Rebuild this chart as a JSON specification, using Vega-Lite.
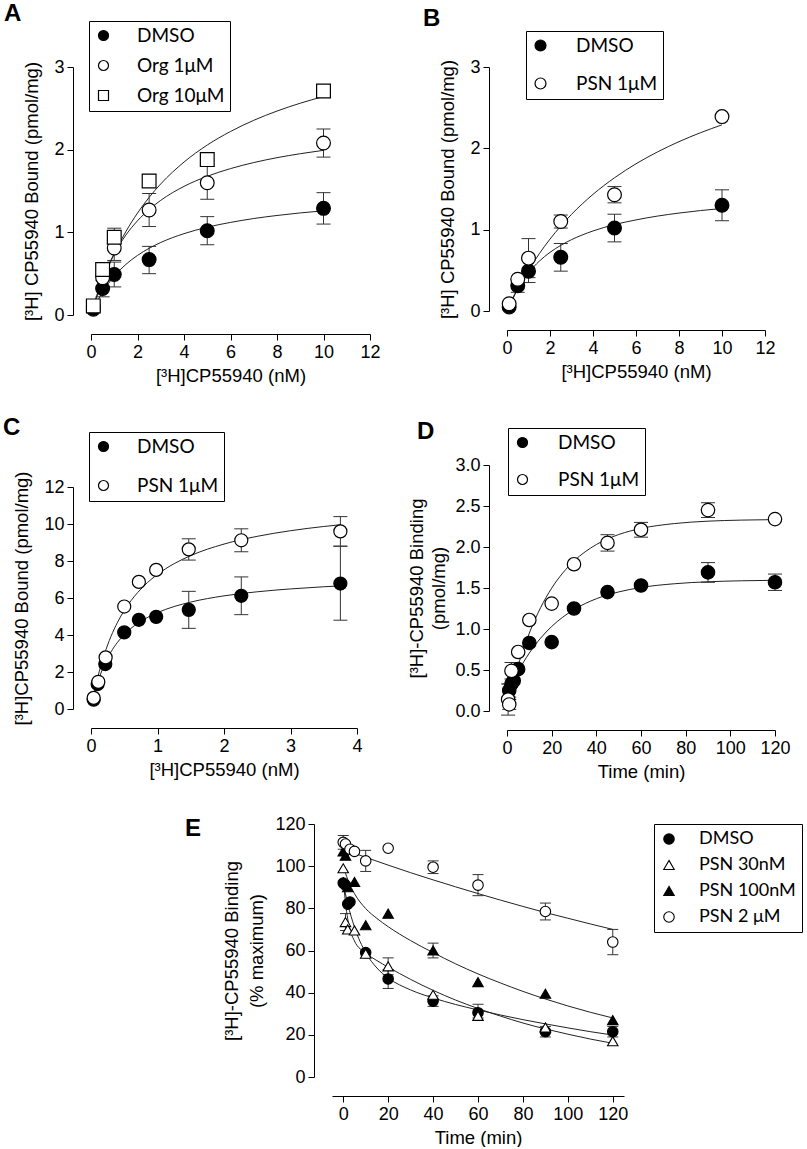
{
"$schema": "https://vega.github.io/schema/vega-lite/v6.json",
"padding": {"left": 3, "top": 1, "right": 0, "bottom": 0},
"config": {
 "view": {"stroke": null},
 "axis": {"domainColor": "black", "tickColor": "black", "labelColor": "black", "titleColor": "black", "labelFont": "Liberation Sans", "titleFont": "Liberation Sans", "labelFontSize": 18, "titleFontSize": 18.5, "titleFontWeight": "normal", "tickSize": 6, "grid": false, "labelPadding": 3, "labelFlush": false, "labelOverlap": false, "titleLineHeight": 22},
 "axisX": {"offset": 19, "titlePadding": 5},
 "axisY": {"offset": 18, "titlePadding": 12},
 "title": {"font": "Liberation Sans", "fontSize": 24, "fontWeight": "bold", "anchor": "start", "frame": "group", "offset": 0, "baseline": "alphabetic", "color": "black"},
 "legend": {"labelFont": "Lato", "labelColor": "black", "labelFontSize": 19, "strokeColor": "black", "fillColor": "white", "symbolStrokeColor": "black", "symbolStrokeWidth": 1.2, "symbolOpacity": 1, "padding": 5, "labelOffset": 24, "symbolSize": 100, "cornerRadius": 0}
},
"datasets": {
 "pts": [
  {"p":"A","s":"DMSO","x":0.1,"y":0.07},
  {"p":"A","s":"DMSO","x":0.5,"y":0.32,"lo":0.22,"hi":0.42},
  {"p":"A","s":"DMSO","x":1,"y":0.49,"lo":0.34,"hi":0.64},
  {"p":"A","s":"DMSO","x":2.5,"y":0.67,"lo":0.5,"hi":0.83},
  {"p":"A","s":"DMSO","x":5,"y":1.02,"lo":0.85,"hi":1.19},
  {"p":"A","s":"DMSO","x":10,"y":1.29,"lo":1.1,"hi":1.48},
  {"p":"A","s":"Org 1μM","x":0.1,"y":0.1},
  {"p":"A","s":"Org 1μM","x":0.5,"y":0.45},
  {"p":"A","s":"Org 1μM","x":1,"y":0.81,"lo":0.66,"hi":0.96},
  {"p":"A","s":"Org 1μM","x":2.5,"y":1.27,"lo":1.07,"hi":1.47},
  {"p":"A","s":"Org 1μM","x":5,"y":1.6,"lo":1.4,"hi":1.8},
  {"p":"A","s":"Org 1μM","x":10,"y":2.08,"lo":1.91,"hi":2.25},
  {"p":"A","s":"Org 10μM","x":0.1,"y":0.11},
  {"p":"A","s":"Org 10μM","x":0.5,"y":0.55,"lo":0.5,"hi":0.6},
  {"p":"A","s":"Org 10μM","x":1,"y":0.94,"lo":0.83,"hi":1.05},
  {"p":"A","s":"Org 10μM","x":2.5,"y":1.62,"lo":1.55,"hi":1.7},
  {"p":"A","s":"Org 10μM","x":5,"y":1.88,"lo":1.8,"hi":1.96},
  {"p":"A","s":"Org 10μM","x":10,"y":2.71},
  {"p":"B","s":"DMSO","x":0.1,"y":0.05},
  {"p":"B","s":"DMSO","x":0.5,"y":0.31,"lo":0.23,"hi":0.39},
  {"p":"B","s":"DMSO","x":1,"y":0.49,"lo":0.35,"hi":0.63},
  {"p":"B","s":"DMSO","x":2.5,"y":0.66,"lo":0.49,"hi":0.83},
  {"p":"B","s":"DMSO","x":5,"y":1.02,"lo":0.85,"hi":1.19},
  {"p":"B","s":"DMSO","x":10,"y":1.3,"lo":1.11,"hi":1.49},
  {"p":"B","s":"PSN 1μM","x":0.1,"y":0.09},
  {"p":"B","s":"PSN 1μM","x":0.5,"y":0.39},
  {"p":"B","s":"PSN 1μM","x":1,"y":0.65,"lo":0.41,"hi":0.89},
  {"p":"B","s":"PSN 1μM","x":2.5,"y":1.1,"lo":1.02,"hi":1.18},
  {"p":"B","s":"PSN 1μM","x":5,"y":1.43,"lo":1.33,"hi":1.53},
  {"p":"B","s":"PSN 1μM","x":10,"y":2.39},
  {"p":"C","s":"DMSO","x":0.04,"y":0.5},
  {"p":"C","s":"DMSO","x":0.1,"y":1.35},
  {"p":"C","s":"DMSO","x":0.215,"y":2.43},
  {"p":"C","s":"DMSO","x":0.5,"y":4.14},
  {"p":"C","s":"DMSO","x":0.72,"y":4.82},
  {"p":"C","s":"DMSO","x":0.98,"y":4.98},
  {"p":"C","s":"DMSO","x":1.47,"y":5.36,"lo":4.36,"hi":6.36},
  {"p":"C","s":"DMSO","x":2.26,"y":6.12,"lo":5.1,"hi":7.14},
  {"p":"C","s":"DMSO","x":3.75,"y":6.78,"lo":4.8,"hi":8.8},
  {"p":"C","s":"PSN 1μM","x":0.04,"y":0.6},
  {"p":"C","s":"PSN 1μM","x":0.11,"y":1.47},
  {"p":"C","s":"PSN 1μM","x":0.22,"y":2.79},
  {"p":"C","s":"PSN 1μM","x":0.5,"y":5.54},
  {"p":"C","s":"PSN 1μM","x":0.72,"y":6.87},
  {"p":"C","s":"PSN 1μM","x":0.98,"y":7.52},
  {"p":"C","s":"PSN 1μM","x":1.47,"y":8.63,"lo":8.05,"hi":9.2},
  {"p":"C","s":"PSN 1μM","x":2.26,"y":9.12,"lo":8.5,"hi":9.74},
  {"p":"C","s":"PSN 1μM","x":3.75,"y":9.6,"lo":8.8,"hi":10.4},
  {"p":"D","s":"DMSO","x":1,"y":0.25,"lo":0.17,"hi":0.33},
  {"p":"D","s":"DMSO","x":2,"y":0.33},
  {"p":"D","s":"DMSO","x":3,"y":0.37},
  {"p":"D","s":"DMSO","x":5,"y":0.51},
  {"p":"D","s":"DMSO","x":10,"y":0.83},
  {"p":"D","s":"DMSO","x":20,"y":0.84},
  {"p":"D","s":"DMSO","x":30,"y":1.25},
  {"p":"D","s":"DMSO","x":45,"y":1.45},
  {"p":"D","s":"DMSO","x":60,"y":1.53},
  {"p":"D","s":"DMSO","x":90,"y":1.69,"lo":1.57,"hi":1.81},
  {"p":"D","s":"DMSO","x":120,"y":1.57,"lo":1.47,"hi":1.67},
  {"p":"D","s":"PSN 1μM","x":0.5,"y":0.14,"lo":-0.05,"hi":0.33},
  {"p":"D","s":"PSN 1μM","x":1,"y":0.08,"lo":0.02,"hi":0.14},
  {"p":"D","s":"PSN 1μM","x":2,"y":0.49,"lo":0.39,"hi":0.59},
  {"p":"D","s":"PSN 1μM","x":5,"y":0.72},
  {"p":"D","s":"PSN 1μM","x":10,"y":1.11},
  {"p":"D","s":"PSN 1μM","x":20,"y":1.31},
  {"p":"D","s":"PSN 1μM","x":30,"y":1.79},
  {"p":"D","s":"PSN 1μM","x":45,"y":2.05,"lo":1.95,"hi":2.15},
  {"p":"D","s":"PSN 1μM","x":60,"y":2.21,"lo":2.12,"hi":2.3},
  {"p":"D","s":"PSN 1μM","x":90,"y":2.45,"lo":2.36,"hi":2.54},
  {"p":"D","s":"PSN 1μM","x":120,"y":2.34},
  {"p":"E","s":"DMSO","x":0,"y":92},
  {"p":"E","s":"DMSO","x":1,"y":91},
  {"p":"E","s":"DMSO","x":2,"y":82},
  {"p":"E","s":"DMSO","x":3,"y":83},
  {"p":"E","s":"DMSO","x":10,"y":59},
  {"p":"E","s":"DMSO","x":20,"y":46.5,"lo":42,"hi":51},
  {"p":"E","s":"DMSO","x":40,"y":36,"lo":33.5,"hi":38.5},
  {"p":"E","s":"DMSO","x":60,"y":30.5,"lo":28,"hi":34.5},
  {"p":"E","s":"DMSO","x":90,"y":21.5,"lo":19,"hi":24},
  {"p":"E","s":"DMSO","x":120,"y":21.5,"lo":19,"hi":24},
  {"p":"E","s":"PSN 30nM","x":0,"y":99},
  {"p":"E","s":"PSN 30nM","x":1,"y":73.5,"lo":69.5,"hi":77.5},
  {"p":"E","s":"PSN 30nM","x":2,"y":70},
  {"p":"E","s":"PSN 30nM","x":5,"y":69.5},
  {"p":"E","s":"PSN 30nM","x":10,"y":58.5},
  {"p":"E","s":"PSN 30nM","x":20,"y":52.5,"lo":48.5,"hi":56.5},
  {"p":"E","s":"PSN 30nM","x":40,"y":39},
  {"p":"E","s":"PSN 30nM","x":60,"y":29},
  {"p":"E","s":"PSN 30nM","x":90,"y":23.5},
  {"p":"E","s":"PSN 30nM","x":120,"y":17},
  {"p":"E","s":"PSN 100nM","x":0,"y":107},
  {"p":"E","s":"PSN 100nM","x":1,"y":105},
  {"p":"E","s":"PSN 100nM","x":2,"y":90},
  {"p":"E","s":"PSN 100nM","x":5,"y":92.5},
  {"p":"E","s":"PSN 100nM","x":10,"y":72},
  {"p":"E","s":"PSN 100nM","x":20,"y":77.5},
  {"p":"E","s":"PSN 100nM","x":40,"y":60,"lo":56.5,"hi":63.5},
  {"p":"E","s":"PSN 100nM","x":60,"y":45},
  {"p":"E","s":"PSN 100nM","x":90,"y":39.5},
  {"p":"E","s":"PSN 100nM","x":120,"y":27},
  {"p":"E","s":"PSN 2 μM","x":0,"y":111.3,"lo":108,"hi":114.5},
  {"p":"E","s":"PSN 2 μM","x":1,"y":110.5},
  {"p":"E","s":"PSN 2 μM","x":3,"y":108},
  {"p":"E","s":"PSN 2 μM","x":5,"y":107},
  {"p":"E","s":"PSN 2 μM","x":10,"y":102.5,"lo":97.5,"hi":107.5},
  {"p":"E","s":"PSN 2 μM","x":20,"y":108.5},
  {"p":"E","s":"PSN 2 μM","x":40,"y":99.5,"lo":96.5,"hi":102.5},
  {"p":"E","s":"PSN 2 μM","x":60,"y":91,"lo":86,"hi":96},
  {"p":"E","s":"PSN 2 μM","x":90,"y":78.5,"lo":74.5,"hi":82.5},
  {"p":"E","s":"PSN 2 μM","x":120,"y":64,"lo":58,"hi":70}
 ],
 "fit": [
  {"p":"A","s":"DMSO","x":0.1,"y":0.065},{"p":"A","s":"DMSO","x":0.25,"y":0.152},{"p":"A","s":"DMSO","x":0.5,"y":0.277},{"p":"A","s":"DMSO","x":0.75,"y":0.381},{"p":"A","s":"DMSO","x":1,"y":0.47},{"p":"A","s":"DMSO","x":1.5,"y":0.612},{"p":"A","s":"DMSO","x":2,"y":0.721},{"p":"A","s":"DMSO","x":2.5,"y":0.807},{"p":"A","s":"DMSO","x":3,"y":0.877},{"p":"A","s":"DMSO","x":4,"y":0.984},{"p":"A","s":"DMSO","x":5,"y":1.062},{"p":"A","s":"DMSO","x":6,"y":1.12},{"p":"A","s":"DMSO","x":7,"y":1.167},{"p":"A","s":"DMSO","x":8,"y":1.204},{"p":"A","s":"DMSO","x":9,"y":1.235},{"p":"A","s":"DMSO","x":10,"y":1.26},
  {"p":"A","s":"Org 1μM","x":0.1,"y":0.102},{"p":"A","s":"Org 1μM","x":0.25,"y":0.24},{"p":"A","s":"Org 1μM","x":0.5,"y":0.438},{"p":"A","s":"Org 1μM","x":0.75,"y":0.602},{"p":"A","s":"Org 1μM","x":1,"y":0.742},{"p":"A","s":"Org 1μM","x":1.5,"y":0.967},{"p":"A","s":"Org 1μM","x":2,"y":1.14},{"p":"A","s":"Org 1μM","x":2.5,"y":1.276},{"p":"A","s":"Org 1μM","x":3,"y":1.387},{"p":"A","s":"Org 1μM","x":4,"y":1.556},{"p":"A","s":"Org 1μM","x":5,"y":1.678},{"p":"A","s":"Org 1μM","x":6,"y":1.771},{"p":"A","s":"Org 1μM","x":7,"y":1.844},{"p":"A","s":"Org 1μM","x":8,"y":1.903},{"p":"A","s":"Org 1μM","x":9,"y":1.951},{"p":"A","s":"Org 1μM","x":10,"y":1.992},
  {"p":"A","s":"Org 10μM","x":0.1,"y":0.09},{"p":"A","s":"Org 10μM","x":0.25,"y":0.218},{"p":"A","s":"Org 10μM","x":0.5,"y":0.411},{"p":"A","s":"Org 10μM","x":0.75,"y":0.584},{"p":"A","s":"Org 10μM","x":1,"y":0.74},{"p":"A","s":"Org 10μM","x":1.5,"y":1.009},{"p":"A","s":"Org 10μM","x":2,"y":1.233},{"p":"A","s":"Org 10μM","x":2.5,"y":1.423},{"p":"A","s":"Org 10μM","x":3,"y":1.586},{"p":"A","s":"Org 10μM","x":4,"y":1.85},{"p":"A","s":"Org 10μM","x":5,"y":2.056},{"p":"A","s":"Org 10μM","x":6,"y":2.22},{"p":"A","s":"Org 10μM","x":7,"y":2.355},{"p":"A","s":"Org 10μM","x":8,"y":2.467},{"p":"A","s":"Org 10μM","x":9,"y":2.562},{"p":"A","s":"Org 10μM","x":10,"y":2.643},
  {"p":"B","s":"DMSO","x":0.1,"y":0.065},{"p":"B","s":"DMSO","x":0.25,"y":0.152},{"p":"B","s":"DMSO","x":0.5,"y":0.277},{"p":"B","s":"DMSO","x":0.75,"y":0.381},{"p":"B","s":"DMSO","x":1,"y":0.47},{"p":"B","s":"DMSO","x":1.5,"y":0.612},{"p":"B","s":"DMSO","x":2,"y":0.721},{"p":"B","s":"DMSO","x":2.5,"y":0.807},{"p":"B","s":"DMSO","x":3,"y":0.877},{"p":"B","s":"DMSO","x":4,"y":0.984},{"p":"B","s":"DMSO","x":5,"y":1.062},{"p":"B","s":"DMSO","x":6,"y":1.12},{"p":"B","s":"DMSO","x":7,"y":1.167},{"p":"B","s":"DMSO","x":8,"y":1.204},{"p":"B","s":"DMSO","x":9,"y":1.235},{"p":"B","s":"DMSO","x":10,"y":1.26},
  {"p":"B","s":"PSN 1μM","x":0.1,"y":0.057},{"p":"B","s":"PSN 1μM","x":0.25,"y":0.139},{"p":"B","s":"PSN 1μM","x":0.5,"y":0.268},{"p":"B","s":"PSN 1μM","x":0.75,"y":0.388},{"p":"B","s":"PSN 1μM","x":1,"y":0.5},{"p":"B","s":"PSN 1μM","x":1.5,"y":0.704},{"p":"B","s":"PSN 1μM","x":2,"y":0.884},{"p":"B","s":"PSN 1μM","x":2.5,"y":1.044},{"p":"B","s":"PSN 1μM","x":3,"y":1.188},{"p":"B","s":"PSN 1μM","x":4,"y":1.434},{"p":"B","s":"PSN 1μM","x":5,"y":1.638},{"p":"B","s":"PSN 1μM","x":6,"y":1.81},{"p":"B","s":"PSN 1μM","x":7,"y":1.956},{"p":"B","s":"PSN 1μM","x":8,"y":2.082},{"p":"B","s":"PSN 1μM","x":9,"y":2.192},{"p":"B","s":"PSN 1μM","x":10,"y":2.289},
  {"p":"C","s":"DMSO","x":0.02,"y":0.336},{"p":"C","s":"DMSO","x":0.05,"y":0.787},{"p":"C","s":"DMSO","x":0.1,"y":1.423},{"p":"C","s":"DMSO","x":0.15,"y":1.947},{"p":"C","s":"DMSO","x":0.2,"y":2.387},{"p":"C","s":"DMSO","x":0.3,"y":3.083},{"p":"C","s":"DMSO","x":0.4,"y":3.61},{"p":"C","s":"DMSO","x":0.5,"y":4.022},{"p":"C","s":"DMSO","x":0.6,"y":4.353},{"p":"C","s":"DMSO","x":0.8,"y":4.852},{"p":"C","s":"DMSO","x":1,"y":5.211},{"p":"C","s":"DMSO","x":1.25,"y":5.539},{"p":"C","s":"DMSO","x":1.5,"y":5.781},{"p":"C","s":"DMSO","x":2,"y":6.116},{"p":"C","s":"DMSO","x":2.5,"y":6.336},{"p":"C","s":"DMSO","x":3,"y":6.491},{"p":"C","s":"DMSO","x":3.5,"y":6.607},{"p":"C","s":"DMSO","x":3.75,"y":6.655},
  {"p":"C","s":"PSN 1μM","x":0.02,"y":0.383},{"p":"C","s":"PSN 1μM","x":0.05,"y":0.913},{"p":"C","s":"PSN 1μM","x":0.1,"y":1.691},{"p":"C","s":"PSN 1μM","x":0.15,"y":2.363},{"p":"C","s":"PSN 1μM","x":0.2,"y":2.949},{"p":"C","s":"PSN 1μM","x":0.3,"y":3.92},{"p":"C","s":"PSN 1μM","x":0.4,"y":4.694},{"p":"C","s":"PSN 1μM","x":0.5,"y":5.324},{"p":"C","s":"PSN 1μM","x":0.6,"y":5.847},{"p":"C","s":"PSN 1μM","x":0.8,"y":6.667},{"p":"C","s":"PSN 1μM","x":1,"y":7.278},{"p":"C","s":"PSN 1μM","x":1.25,"y":7.855},{"p":"C","s":"PSN 1μM","x":1.5,"y":8.293},{"p":"C","s":"PSN 1μM","x":2,"y":8.915},{"p":"C","s":"PSN 1μM","x":2.5,"y":9.334},{"p":"C","s":"PSN 1μM","x":3,"y":9.637},{"p":"C","s":"PSN 1μM","x":3.5,"y":9.865},{"p":"C","s":"PSN 1μM","x":3.75,"y":9.96},
  {"p":"D","s":"DMSO","x":0,"y":0.2},{"p":"D","s":"DMSO","x":2,"y":0.32},{"p":"D","s":"DMSO","x":5,"y":0.482},{"p":"D","s":"DMSO","x":10,"y":0.707},{"p":"D","s":"DMSO","x":15,"y":0.887},{"p":"D","s":"DMSO","x":20,"y":1.031},{"p":"D","s":"DMSO","x":25,"y":1.145},{"p":"D","s":"DMSO","x":30,"y":1.237},{"p":"D","s":"DMSO","x":40,"y":1.369},{"p":"D","s":"DMSO","x":50,"y":1.452},{"p":"D","s":"DMSO","x":60,"y":1.506},{"p":"D","s":"DMSO","x":75,"y":1.552},{"p":"D","s":"DMSO","x":90,"y":1.576},{"p":"D","s":"DMSO","x":105,"y":1.588},{"p":"D","s":"DMSO","x":120,"y":1.594},
  {"p":"D","s":"PSN 1μM","x":0,"y":0.05},{"p":"D","s":"PSN 1μM","x":2,"y":0.268},{"p":"D","s":"PSN 1μM","x":5,"y":0.557},{"p":"D","s":"PSN 1μM","x":10,"y":0.951},{"p":"D","s":"PSN 1μM","x":15,"y":1.258},{"p":"D","s":"PSN 1μM","x":20,"y":1.498},{"p":"D","s":"PSN 1μM","x":25,"y":1.684},{"p":"D","s":"PSN 1μM","x":30,"y":1.829},{"p":"D","s":"PSN 1μM","x":40,"y":2.03},{"p":"D","s":"PSN 1μM","x":50,"y":2.152},{"p":"D","s":"PSN 1μM","x":60,"y":2.226},{"p":"D","s":"PSN 1μM","x":75,"y":2.286},{"p":"D","s":"PSN 1μM","x":90,"y":2.315},{"p":"D","s":"PSN 1μM","x":105,"y":2.328},{"p":"D","s":"PSN 1μM","x":120,"y":2.334},
  {"p":"E","s":"DMSO","x":0,"y":92},{"p":"E","s":"DMSO","x":1,"y":86.8},{"p":"E","s":"DMSO","x":2,"y":82.2},{"p":"E","s":"DMSO","x":5,"y":71.1},{"p":"E","s":"DMSO","x":10,"y":59},{"p":"E","s":"DMSO","x":15,"y":51.7},{"p":"E","s":"DMSO","x":20,"y":47},{"p":"E","s":"DMSO","x":30,"y":41.3},{"p":"E","s":"DMSO","x":40,"y":37.5},{"p":"E","s":"DMSO","x":50,"y":34.4},{"p":"E","s":"DMSO","x":60,"y":31.8},{"p":"E","s":"DMSO","x":70,"y":29.4},{"p":"E","s":"DMSO","x":80,"y":27.2},{"p":"E","s":"DMSO","x":90,"y":25.2},{"p":"E","s":"DMSO","x":100,"y":23.3},{"p":"E","s":"DMSO","x":110,"y":21.5},{"p":"E","s":"DMSO","x":120,"y":19.9},
  {"p":"E","s":"PSN 30nM","x":0,"y":94.9},{"p":"E","s":"PSN 30nM","x":1,"y":82.7},{"p":"E","s":"PSN 30nM","x":2,"y":75},{"p":"E","s":"PSN 30nM","x":5,"y":64.5},{"p":"E","s":"PSN 30nM","x":10,"y":58.8},{"p":"E","s":"PSN 30nM","x":15,"y":55.2},{"p":"E","s":"PSN 30nM","x":20,"y":52.1},{"p":"E","s":"PSN 30nM","x":30,"y":46.3},{"p":"E","s":"PSN 30nM","x":40,"y":41.1},{"p":"E","s":"PSN 30nM","x":50,"y":36.5},{"p":"E","s":"PSN 30nM","x":60,"y":32.5},{"p":"E","s":"PSN 30nM","x":70,"y":28.9},{"p":"E","s":"PSN 30nM","x":80,"y":25.6},{"p":"E","s":"PSN 30nM","x":90,"y":22.8},{"p":"E","s":"PSN 30nM","x":100,"y":20.3},{"p":"E","s":"PSN 30nM","x":110,"y":18},{"p":"E","s":"PSN 30nM","x":120,"y":16},
  {"p":"E","s":"PSN 100nM","x":0,"y":100},{"p":"E","s":"PSN 100nM","x":2,"y":93.7},{"p":"E","s":"PSN 100nM","x":5,"y":87},{"p":"E","s":"PSN 100nM","x":10,"y":79.9},{"p":"E","s":"PSN 100nM","x":15,"y":75.2},{"p":"E","s":"PSN 100nM","x":20,"y":71.3},{"p":"E","s":"PSN 100nM","x":30,"y":64.7},{"p":"E","s":"PSN 100nM","x":40,"y":59},{"p":"E","s":"PSN 100nM","x":50,"y":53.7},{"p":"E","s":"PSN 100nM","x":60,"y":48.9},{"p":"E","s":"PSN 100nM","x":70,"y":44.6},{"p":"E","s":"PSN 100nM","x":80,"y":40.6},{"p":"E","s":"PSN 100nM","x":90,"y":37},{"p":"E","s":"PSN 100nM","x":100,"y":33.7},{"p":"E","s":"PSN 100nM","x":110,"y":30.7},{"p":"E","s":"PSN 100nM","x":120,"y":28},
  {"p":"E","s":"PSN 2 μM","x":0,"y":108},{"p":"E","s":"PSN 2 μM","x":5,"y":106.1},{"p":"E","s":"PSN 2 μM","x":10,"y":104.2},{"p":"E","s":"PSN 2 μM","x":20,"y":100.5},{"p":"E","s":"PSN 2 μM","x":30,"y":96.9},{"p":"E","s":"PSN 2 μM","x":40,"y":93.5},{"p":"E","s":"PSN 2 μM","x":50,"y":90.2},{"p":"E","s":"PSN 2 μM","x":60,"y":87},{"p":"E","s":"PSN 2 μM","x":70,"y":83.9},{"p":"E","s":"PSN 2 μM","x":80,"y":80.9},{"p":"E","s":"PSN 2 μM","x":90,"y":78},{"p":"E","s":"PSN 2 μM","x":100,"y":75.3},{"p":"E","s":"PSN 2 μM","x":110,"y":72.6},{"p":"E","s":"PSN 2 μM","x":120,"y":70}
 ]
},
"resolve": {"scale": {"shape": "independent", "fill": "independent"}, "legend": {"shape": "independent", "fill": "independent"}},
"spacing": 34,
"vconcat": [
 {
  "spacing": 26,
  "resolve": {"scale": {"shape": "independent", "fill": "independent"}, "legend": {"shape": "independent", "fill": "independent"}},
  "hconcat": [
   {
    "spacing": 30,
    "resolve": {"scale": {"shape": "independent", "fill": "independent"}, "legend": {"shape": "independent", "fill": "independent"}},
    "vconcat": [
     {
      "width": 279, "height": 248,
      "title": {"text": "A", "dx": -87, "dy": 9},
      "encoding": {
       "x": {"field": "x", "type": "quantitative", "scale": {"domain": [0, 12], "nice": false, "zero": false}, "axis": {"values": [0,2,4,6,8,10,12], "title": "[³H]CP55940 (nM)"}},
       "y": {"field": "y", "type": "quantitative", "scale": {"domain": [0, 3], "nice": false, "zero": false}, "axis": {"values": [0,1,2,3], "title": "[³H] CP55940 Bound (pmol/mg)"}}
      },
      "layer": [
       {"data": {"name": "pts"}, "transform": [{"filter": "datum.p === 'A' && isValid(datum.lo)"}], "mark": {"type": "rule", "color": "#333", "strokeWidth": 1}, "encoding": {"y": {"field": "lo", "type": "quantitative"}, "y2": {"field": "hi"}}},
       {"data": {"name": "pts"}, "transform": [{"filter": "datum.p === 'A' && isValid(datum.lo)"}], "mark": {"type": "tick", "orient": "horizontal", "size": 14, "thickness": 1, "color": "#333", "opacity": 1}, "encoding": {"y": {"field": "hi", "type": "quantitative"}}},
       {"data": {"name": "pts"}, "transform": [{"filter": "datum.p === 'A' && isValid(datum.lo)"}], "mark": {"type": "tick", "orient": "horizontal", "size": 14, "thickness": 1, "color": "#333", "opacity": 1}, "encoding": {"y": {"field": "lo", "type": "quantitative"}}},
       {"data": {"name": "fit"}, "transform": [{"filter": "datum.p === 'A'"}], "mark": {"type": "line", "color": "#222", "strokeWidth": 1, "interpolate": "monotone"}, "encoding": {"detail": {"field": "s"}}},
       {"data": {"name": "pts"}, "transform": [{"filter": "datum.p === 'A'"}], "mark": {"type": "point", "filled": true, "stroke": "black", "strokeWidth": 1.2, "size": 190, "opacity": 1},
        "encoding": {
         "shape": {"field": "s", "type": "nominal", "scale": {"domain": ["DMSO","Org 1μM","Org 10μM"], "range": ["circle","circle","square"]}, "legend": {"title": null, "orient": "none", "legendX": -2, "legendY": -46, "rowPadding": 10, "symbolSize": 100, "encode": {"symbols": {"update": {"stroke": {"value": "black"}, "strokeWidth": {"value": 1.2}, "size": {"value": 100}}}}}},
         "fill": {"field": "s", "type": "nominal", "scale": {"domain": ["DMSO","Org 1μM","Org 10μM"], "range": ["black","white","white"]}, "legend": {"title": null, "orient": "none", "legendX": -2, "legendY": -46, "rowPadding": 10, "symbolSize": 100, "encode": {"symbols": {"update": {"stroke": {"value": "black"}, "strokeWidth": {"value": 1.2}, "size": {"value": 100}}}}}}
        }}
      ]
     },
     {
      "width": 266, "height": 222,
      "title": {"text": "C", "dx": -88, "dy": 12},
      "encoding": {
       "x": {"field": "x", "type": "quantitative", "scale": {"domain": [0, 4], "nice": false, "zero": false}, "axis": {"values": [0,1,2,3,4], "title": "[³H]CP55940 (nM)"}},
       "y": {"field": "y", "type": "quantitative", "scale": {"domain": [0, 12], "nice": false, "zero": false}, "axis": {"values": [0,2,4,6,8,10,12], "title": "[³H]CP55940 Bound (pmol/mg)"}}
      },
      "layer": [
       {"data": {"name": "pts"}, "transform": [{"filter": "datum.p === 'C' && isValid(datum.lo)"}], "mark": {"type": "rule", "color": "#333", "strokeWidth": 1}, "encoding": {"y": {"field": "lo", "type": "quantitative"}, "y2": {"field": "hi"}}},
       {"data": {"name": "pts"}, "transform": [{"filter": "datum.p === 'C' && isValid(datum.lo)"}], "mark": {"type": "tick", "orient": "horizontal", "size": 14, "thickness": 1, "color": "#333", "opacity": 1}, "encoding": {"y": {"field": "hi", "type": "quantitative"}}},
       {"data": {"name": "pts"}, "transform": [{"filter": "datum.p === 'C' && isValid(datum.lo)"}], "mark": {"type": "tick", "orient": "horizontal", "size": 14, "thickness": 1, "color": "#333", "opacity": 1}, "encoding": {"y": {"field": "lo", "type": "quantitative"}}},
       {"data": {"name": "fit"}, "transform": [{"filter": "datum.p === 'C'"}], "mark": {"type": "line", "color": "#222", "strokeWidth": 1, "interpolate": "monotone"}, "encoding": {"detail": {"field": "s"}}},
       {"data": {"name": "pts"}, "transform": [{"filter": "datum.p === 'C'"}], "mark": {"type": "point", "filled": true, "stroke": "black", "strokeWidth": 1.2, "size": 170, "opacity": 1},
        "encoding": {
         "shape": {"field": "s", "type": "nominal", "scale": {"domain": ["DMSO","PSN 1μM"], "range": ["circle","circle"]}, "legend": {"title": null, "orient": "none", "legendX": -2, "legendY": -55, "rowPadding": 19, "symbolSize": 100, "encode": {"symbols": {"update": {"stroke": {"value": "black"}, "strokeWidth": {"value": 1.2}, "size": {"value": 100}}}}}},
         "fill": {"field": "s", "type": "nominal", "scale": {"domain": ["DMSO","PSN 1μM"], "range": ["black","white"]}, "legend": {"title": null, "orient": "none", "legendX": -2, "legendY": -55, "rowPadding": 19, "symbolSize": 100, "encode": {"symbols": {"update": {"stroke": {"value": "black"}, "strokeWidth": {"value": 1.2}, "size": {"value": 100}}}}}}
        }}
      ]
     }
    ]
   },
   {
    "spacing": 38,
    "resolve": {"scale": {"shape": "independent", "fill": "independent"}, "legend": {"shape": "independent", "fill": "independent"}},
    "vconcat": [
     {
      "width": 258, "height": 244,
      "title": {"text": "B", "dx": -84, "dy": 4},
      "encoding": {
       "x": {"field": "x", "type": "quantitative", "scale": {"domain": [0, 12], "nice": false, "zero": false}, "axis": {"values": [0,2,4,6,8,10,12], "title": "[³H]CP55940 (nM)"}},
       "y": {"field": "y", "type": "quantitative", "scale": {"domain": [0, 3], "nice": false, "zero": false}, "axis": {"values": [0,1,2,3], "title": "[³H] CP55940 Bound (pmol/mg)"}}
      },
      "layer": [
       {"data": {"name": "pts"}, "transform": [{"filter": "datum.p === 'B' && isValid(datum.lo)"}], "mark": {"type": "rule", "color": "#333", "strokeWidth": 1}, "encoding": {"y": {"field": "lo", "type": "quantitative"}, "y2": {"field": "hi"}}},
       {"data": {"name": "pts"}, "transform": [{"filter": "datum.p === 'B' && isValid(datum.lo)"}], "mark": {"type": "tick", "orient": "horizontal", "size": 14, "thickness": 1, "color": "#333", "opacity": 1}, "encoding": {"y": {"field": "hi", "type": "quantitative"}}},
       {"data": {"name": "pts"}, "transform": [{"filter": "datum.p === 'B' && isValid(datum.lo)"}], "mark": {"type": "tick", "orient": "horizontal", "size": 14, "thickness": 1, "color": "#333", "opacity": 1}, "encoding": {"y": {"field": "lo", "type": "quantitative"}}},
       {"data": {"name": "fit"}, "transform": [{"filter": "datum.p === 'B'"}], "mark": {"type": "line", "color": "#222", "strokeWidth": 1, "interpolate": "monotone"}, "encoding": {"detail": {"field": "s"}}},
       {"data": {"name": "pts"}, "transform": [{"filter": "datum.p === 'B'"}], "mark": {"type": "point", "filled": true, "stroke": "black", "strokeWidth": 1.2, "size": 190, "opacity": 1},
        "encoding": {
         "shape": {"field": "s", "type": "nominal", "scale": {"domain": ["DMSO","PSN 1μM"], "range": ["circle","circle"]}, "legend": {"title": null, "orient": "none", "legendX": 19, "legendY": -36, "rowPadding": 18, "labelOffset": 26, "symbolSize": 120, "encode": {"symbols": {"update": {"stroke": {"value": "black"}, "strokeWidth": {"value": 1.2}, "size": {"value": 120}}}}}},
         "fill": {"field": "s", "type": "nominal", "scale": {"domain": ["DMSO","PSN 1μM"], "range": ["black","white"]}, "legend": {"title": null, "orient": "none", "legendX": 19, "legendY": -36, "rowPadding": 18, "labelOffset": 26, "symbolSize": 120, "encode": {"symbols": {"update": {"stroke": {"value": "black"}, "strokeWidth": {"value": 1.2}, "size": {"value": 120}}}}}}
        }}
      ]
     },
     {
      "width": 268, "height": 246,
      "title": {"text": "D", "dx": -90, "dy": 20},
      "encoding": {
       "x": {"field": "x", "type": "quantitative", "scale": {"domain": [0, 120], "nice": false, "zero": false}, "axis": {"values": [0,20,40,60,80,100,120], "title": "Time (min)"}},
       "y": {"field": "y", "type": "quantitative", "scale": {"domain": [0, 3], "nice": false, "zero": false}, "axis": {"values": [0,0.5,1,1.5,2,2.5,3], "format": ".1f", "title": ["[³H]-CP55940 Binding", "(pmol/mg)"], "titlePadding": 6}}
      },
      "layer": [
       {"data": {"name": "pts"}, "transform": [{"filter": "datum.p === 'D' && isValid(datum.lo)"}], "mark": {"type": "rule", "color": "#333", "strokeWidth": 1}, "encoding": {"y": {"field": "lo", "type": "quantitative"}, "y2": {"field": "hi"}}},
       {"data": {"name": "pts"}, "transform": [{"filter": "datum.p === 'D' && isValid(datum.lo)"}], "mark": {"type": "tick", "orient": "horizontal", "size": 14, "thickness": 1, "color": "#333", "opacity": 1}, "encoding": {"y": {"field": "hi", "type": "quantitative"}}},
       {"data": {"name": "pts"}, "transform": [{"filter": "datum.p === 'D' && isValid(datum.lo)"}], "mark": {"type": "tick", "orient": "horizontal", "size": 14, "thickness": 1, "color": "#333", "opacity": 1}, "encoding": {"y": {"field": "lo", "type": "quantitative"}}},
       {"data": {"name": "fit"}, "transform": [{"filter": "datum.p === 'D'"}], "mark": {"type": "line", "color": "#222", "strokeWidth": 1, "interpolate": "monotone"}, "encoding": {"detail": {"field": "s"}}},
       {"data": {"name": "pts"}, "transform": [{"filter": "datum.p === 'D'"}], "mark": {"type": "point", "filled": true, "stroke": "black", "strokeWidth": 1.2, "size": 180, "opacity": 1},
        "encoding": {
         "shape": {"field": "s", "type": "nominal", "scale": {"domain": ["DMSO","PSN 1μM"], "range": ["circle","circle"]}, "legend": {"title": null, "orient": "none", "legendX": 1, "legendY": -37, "rowPadding": 17, "labelOffset": 26, "symbolSize": 100, "encode": {"symbols": {"update": {"stroke": {"value": "black"}, "strokeWidth": {"value": 1.2}, "size": {"value": 100}}}}}},
         "fill": {"field": "s", "type": "nominal", "scale": {"domain": ["DMSO","PSN 1μM"], "range": ["black","white"]}, "legend": {"title": null, "orient": "none", "legendX": 1, "legendY": -37, "rowPadding": 17, "labelOffset": 26, "symbolSize": 100, "encode": {"symbols": {"update": {"stroke": {"value": "black"}, "strokeWidth": {"value": 1.2}, "size": {"value": 100}}}}}}
        }}
      ]
     }
    ]
   }
  ]
 },
 {
  "spacing": 0,
  "resolve": {"scale": {"shape": "independent", "fill": "independent"}, "legend": {"shape": "independent", "fill": "independent"}},
  "hconcat": [
   {
    "width": 94, "height": 1,
    "data": {"values": []},
    "mark": {"type": "point", "opacity": 0},
    "encoding": {}
   },
   {
    "width": 292, "height": 253,
    "title": {"text": "E", "dx": -147, "dy": 30},
    "encoding": {
     "x": {"field": "x", "type": "quantitative", "scale": {"domain": [-5, 125], "nice": false, "zero": false}, "axis": {"values": [0,20,40,60,80,100,120], "title": "Time (min)"}},
     "y": {"field": "y", "type": "quantitative", "scale": {"domain": [0, 120], "nice": false, "zero": false}, "axis": {"values": [0,20,40,60,80,100,120], "title": ["[³H]-CP55940 Binding", "(% maximum)"], "titlePadding": 8, "titleLineHeight": 25}}
    },
    "layer": [
     {"data": {"name": "pts"}, "transform": [{"filter": "datum.p === 'E' && isValid(datum.lo)"}], "mark": {"type": "rule", "color": "#333", "strokeWidth": 1}, "encoding": {"y": {"field": "lo", "type": "quantitative"}, "y2": {"field": "hi"}}},
     {"data": {"name": "pts"}, "transform": [{"filter": "datum.p === 'E' && isValid(datum.lo)"}], "mark": {"type": "tick", "orient": "horizontal", "size": 11, "thickness": 1, "color": "#333", "opacity": 1}, "encoding": {"y": {"field": "hi", "type": "quantitative"}}},
     {"data": {"name": "pts"}, "transform": [{"filter": "datum.p === 'E' && isValid(datum.lo)"}], "mark": {"type": "tick", "orient": "horizontal", "size": 11, "thickness": 1, "color": "#333", "opacity": 1}, "encoding": {"y": {"field": "lo", "type": "quantitative"}}},
     {"data": {"name": "fit"}, "transform": [{"filter": "datum.p === 'E'"}], "mark": {"type": "line", "color": "#222", "strokeWidth": 1, "interpolate": "monotone"}, "encoding": {"detail": {"field": "s"}}},
     {"data": {"name": "pts"}, "transform": [{"filter": "datum.p === 'E'"}], "mark": {"type": "point", "filled": true, "stroke": "black", "strokeWidth": 1.1, "size": 110, "opacity": 1},
      "encoding": {
       "shape": {"field": "s", "type": "nominal", "scale": {"domain": ["DMSO","PSN 30nM","PSN 100nM","PSN 2 μM"], "range": ["circle","triangle-up","triangle-up","circle"]}, "legend": {"title": null, "orient": "none", "legendX": 322, "legendY": 0, "rowPadding": 8, "labelFontSize": 18, "padding": 6, "labelOffset": 21, "symbolSize": 110, "encode": {"symbols": {"update": {"stroke": {"value": "black"}, "strokeWidth": {"value": 1.1}, "size": {"value": 110}}}}}},
       "fill": {"field": "s", "type": "nominal", "scale": {"domain": ["DMSO","PSN 30nM","PSN 100nM","PSN 2 μM"], "range": ["black","white","black","white"]}, "legend": {"title": null, "orient": "none", "legendX": 322, "legendY": 0, "rowPadding": 8, "labelFontSize": 18, "padding": 6, "labelOffset": 21, "symbolSize": 110, "encode": {"symbols": {"update": {"stroke": {"value": "black"}, "strokeWidth": {"value": 1.1}, "size": {"value": 110}}}}}}
      }}
    ]
   }
  ]
 }
]
}
